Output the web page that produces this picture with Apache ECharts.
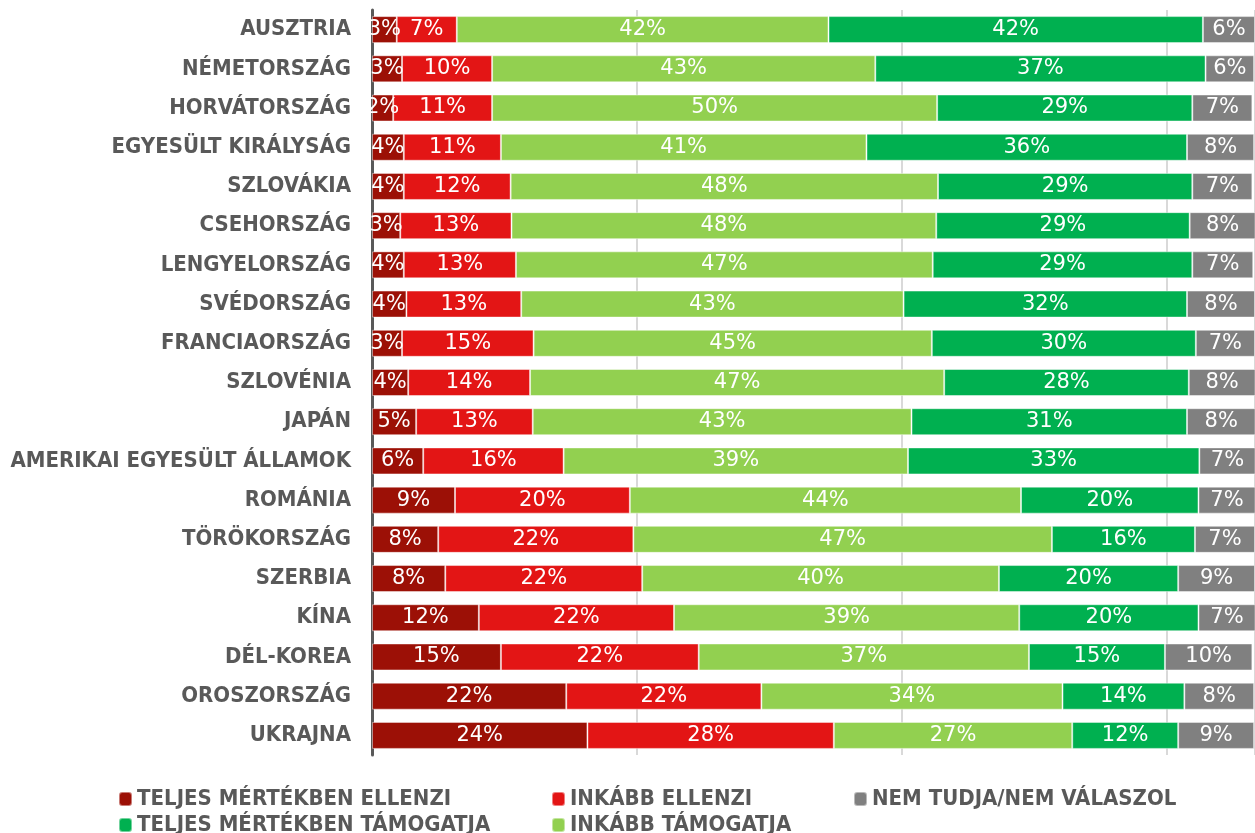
<!DOCTYPE html>
<html>
<head>
<meta charset="utf-8">
<script src="https://cdn.jsdelivr.net/npm/echarts@6/dist/echarts.min.js"></script>
<style>
    html, body { margin: 0; padding: 0; background: #fff; }
    #chart { width: 1255px; height: 833px; }
</style>
</head>
<body>
<div id="chart"></div>
<script>
var countries = ['AUSZTRIA', 'NÉMETORSZÁG', 'HORVÁTORSZÁG', 'EGYESÜLT KIRÁLYSÁG', 'SZLOVÁKIA',
    'CSEHORSZÁG', 'LENGYELORSZÁG', 'SVÉDORSZÁG', 'FRANCIAORSZÁG', 'SZLOVÉNIA', 'JAPÁN',
    'AMERIKAI EGYESÜLT ÁLLAMOK', 'ROMÁNIA', 'TÖRÖKORSZÁG', 'SZERBIA', 'KÍNA', 'DÉL-KOREA',
    'OROSZORSZÁG', 'UKRAJNA'];
// values, labels show them rounded
var teljesEllenzi = [2.8, 3.4, 2.4, 3.6, 3.6, 3.2, 3.6, 3.9, 3.4, 4.1, 5.0, 5.8, 9.4, 7.5, 8.3, 12.1, 14.6, 22.0, 24.4];
var inkabbEllenzi = [6.8, 10.2, 11.2, 11.0, 12.1, 12.6, 12.7, 13.0, 14.9, 13.8, 13.2, 15.9, 19.8, 22.1, 22.3, 22.1, 22.4, 22.1, 27.9];
var inkabbTamogatja = [42.1, 43.4, 50.4, 41.4, 48.4, 48.1, 47.2, 43.3, 45.1, 46.9, 42.9, 39.0, 44.3, 47.4, 40.4, 39.1, 37.4, 34.1, 27.0];
var teljesTamogatja = [42.4, 37.4, 28.9, 36.3, 28.8, 28.7, 29.4, 32.1, 29.9, 27.7, 31.2, 33.0, 20.1, 16.2, 20.3, 20.3, 15.4, 13.8, 12.0];
var nemTudja = [5.9, 5.5, 6.8, 7.6, 6.8, 7.6, 6.9, 7.7, 6.7, 7.6, 7.8, 6.5, 6.5, 6.8, 8.7, 6.5, 9.9, 7.9, 8.6];

var seriesNames = ['TELJES MÉRTÉKBEN ELLENZI', 'INKÁBB ELLENZI', 'INKÁBB TÁMOGATJA',
    'TELJES MÉRTÉKBEN TÁMOGATJA', 'NEM TUDJA/NEM VÁLASZOL'];
var seriesData = [teljesEllenzi, inkabbEllenzi, inkabbTamogatja, teljesTamogatja, nemTudja];
var colors = ['#9C1006', '#E31515', '#92D050', '#00B050', '#808080'];

var condensed = '"DejaVu Sans Condensed", "DejaVu Sans", sans-serif';

(function () {
    var myChart = echarts.init(document.getElementById('chart'));

    var series = seriesData.map(function (d, i) {
        return {
            name: seriesNames[i],
            type: 'bar',
            stack: 'all',
            barWidth: 27,
            data: d,
            itemStyle: {
                color: colors[i],
                borderColor: 'rgba(255,255,255,0.45)',
                borderWidth: 1
            },
            label: {
                show: true,
                position: 'inside',
                color: '#fff',
                fontFamily: '"DejaVu Sans", sans-serif',
                fontSize: 21,
                formatter: function (p) {
                    return Math.round(p.value) + '%';
                }
            }
        };
    });

    // legend laid out as a 3-column grid: one legend per item
    var legendPos = [
        [118, 788], [551, 788], [551, 814], [118, 814], [853, 788]
    ];
    var legends = seriesNames.map(function (name, i) {
        return {
            left: legendPos[i][0],
            top: legendPos[i][1],
            padding: 0,
            itemWidth: 13,
            itemHeight: 14,
            textStyle: {
                color: '#595959',
                fontFamily: condensed,
                fontWeight: 'bold',
                fontSize: 22
            },
            data: [name]
        };
    });

    var option = {
        animation: false,
        color: colors,
        grid: {
            left: 372,
            right: 0,
            top: 10,
            height: 745
        },
        legend: legends,
        xAxis: {
            type: 'value',
            min: 0,
            max: 100,
            interval: 30,
            axisLabel: { show: false },
            axisLine: { show: false },
            axisTick: { show: false },
            splitLine: {
                lineStyle: { color: '#d9d9d9', width: 2 }
            }
        },
        yAxis: {
            type: 'category',
            inverse: true,
            data: countries,
            axisLine: {
                lineStyle: { color: '#595959', width: 3 }
            },
            axisTick: { show: false },
            axisLabel: {
                color: '#595959',
                fontFamily: condensed,
                fontWeight: 'bold',
                fontSize: 22,
                margin: 21
            }
        },
        series: series
    };
    myChart.setOption(option);
})();
</script>
</body>
</html>
